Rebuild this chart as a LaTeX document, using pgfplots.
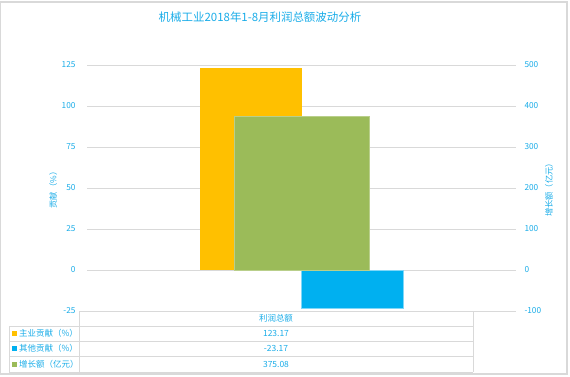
\documentclass[border=0pt]{standalone}
\usepackage{pgfplots}
\pgfplotsset{compat=1.18}
\usepackage{fontspec}
\setmainfont{Noto Sans CJK SC}
\definecolor{txt}{RGB}{25,172,232}
\definecolor{c1}{RGB}{255,192,0}
\definecolor{c2}{RGB}{0,176,240}
\definecolor{c3}{RGB}{155,187,89}
\definecolor{gridc}{RGB}{217,217,217}
\begin{document}
\begin{tikzpicture}[x=1bp,y=1bp]
\useasboundingbox (0,0) rectangle (570,376);
\draw[gridc,line width=1.2bp] (0,2) rectangle (567,374);
\node[text=txt,font=\fontsize{11.5}{13}\selectfont] at (260,359) {机械工业2018年1-8月利润总额波动分析};
\begin{axis}[at={(87bp,65bp)}, anchor=south west, scale only axis,
  width=429bp, height=246bp, xmin=-1, xmax=1, ymin=-25, ymax=125,
  ytick={-25,0,25,50,75,100,125}, xtick=\empty,
  axis line style={draw=none}, major tick length=0pt,
  ymajorgrids, grid style={gridc, line width=0.8bp},
  /pgf/number format/assume math mode=true,
  yticklabel style={text=txt, font=\fontsize{8.3}{9}\selectfont, xshift=-8bp},
  ylabel={贡献（\%）},
  ylabel style={text=txt, font=\fontsize{8.3}{9}\selectfont, at={(axis description cs:-0.079,0.5)}, anchor=center},
  clip=false]
\addplot[ybar, bar width=102bp, bar shift=-51bp, fill=c1, draw=none] coordinates {(0,123.17)};
\addplot[ybar, bar width=102bp, bar shift=51bp, fill=c2, draw=c2!50] coordinates {(0,-23.17)};
\end{axis}
\begin{axis}[at={(87bp,65bp)}, anchor=south west, scale only axis,
  width=429bp, height=246bp, xmin=-1, xmax=1, ymin=-100, ymax=500,
  ytick={-100,0,100,200,300,400,500}, xtick=\empty,
  axis y line*=right, axis x line=none,
  axis line style={draw=none}, major tick length=0pt,
  /pgf/number format/assume math mode=true,
  yticklabel style={text=txt, font=\fontsize{8.3}{9}\selectfont, xshift=5bp},
  ylabel={增长额（亿元）},
  ylabel style={text=txt, font=\fontsize{8.3}{9}\selectfont, at={(axis description cs:1.077,0.5)}, anchor=center},
  clip=false]
\addplot[ybar, bar width=135bp, bar shift=0bp, fill=c3, draw=c3!70] coordinates {(0,375.08)};
\end{axis}
% data table
\begin{scope}[gridc, line width=0.8bp]
\draw (79,65) -- (473,65);
\draw (79,65) -- (79,4);
\draw (473,65) -- (473,4);
\draw (9,50) -- (473,50);
\draw (9,35) -- (473,35);
\draw (9,20) -- (473,20);
\draw (9,4) -- (473,4);
\draw (9,50) -- (9,4);
\end{scope}
\begin{scope}[font=\fontsize{8.5}{9}\selectfont, text=txt]
\node at (276,57.5) {利润总额};
\node at (276,42.5) {123.17};
\node at (276,27.5) {-23.17};
\node at (276,12) {375.08};
\fill[c1] (12,40) rectangle (17,45);
\fill[c2] (12,25) rectangle (17,30);
\fill[c3] (12,9.5) rectangle (17,14.5);
\node[anchor=west, inner sep=0pt] at (19,42.5) {主业贡献（\%）};
\node[anchor=west, inner sep=0pt] at (19,27.5) {其他贡献（\%）};
\node[anchor=west, inner sep=0pt] at (19,12) {增长额（亿元）};
\end{scope}
\end{tikzpicture}
\end{document}
